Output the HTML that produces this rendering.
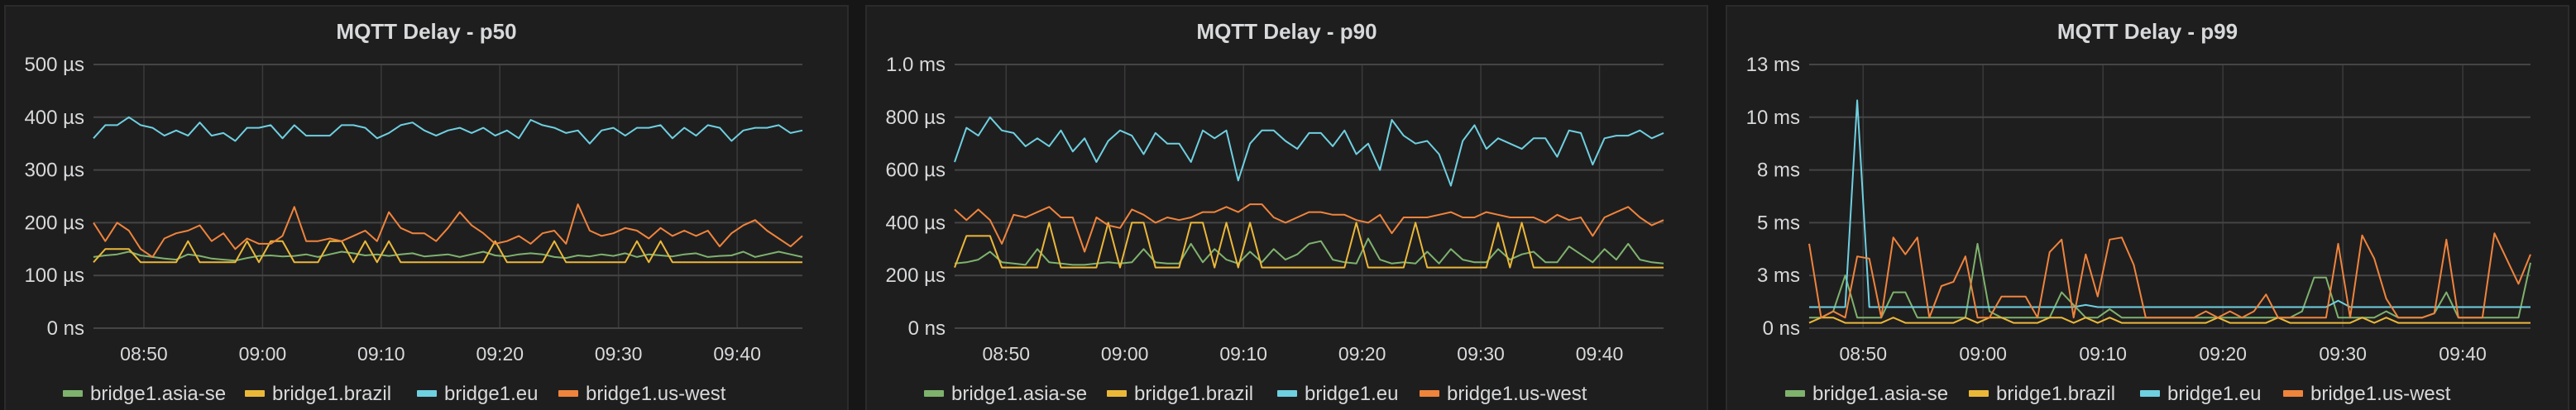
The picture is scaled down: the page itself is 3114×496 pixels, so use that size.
<!DOCTYPE html>
<html><head><meta charset="utf-8"><style>
html,body{margin:0;padding:0;background:#161616;}
svg{display:block;font-family:"Liberation Sans",sans-serif;}
</style></head><body>
<svg id="chart" width="3114" height="496" viewBox="0 0 3114 496" xmlns="http://www.w3.org/2000/svg"></svg>
<script>
// ---------- data ----------
const seriesNames = ["bridge1.asia-se","bridge1.brazil","bridge1.eu","bridge1.us-west"];
const xTickLabels = ["08:50","09:00","09:10","09:20","09:30","09:40"];
const xTickMinutes = [0,10,20,30,40,50];

// p50 (µs)
const p50Asia = [135,138,140,145,138,135,132,130,140,137,132,130,128,133,137,138,136,137,140,135,140,145,142,138,140,137,140,142,136,138,140,135,140,145,138,136,140,142,140,135,133,138,136,140,137,142,135,140,138,136,140,142,135,137,138,145,135,140,145,140,135];
const p50Brazil = [125,150,150,150,125,125,125,125,165,125,125,125,125,165,125,165,165,125,125,125,165,165,125,165,125,165,125,125,125,125,125,125,125,125,165,125,125,125,125,165,125,125,125,125,125,125,165,125,165,125,125,125,125,125,125,125,125,125,125,125,125];
const p50Eu = [360,385,385,400,385,380,365,375,365,390,365,370,355,380,380,385,360,385,365,365,365,385,385,380,360,370,385,390,375,365,375,380,370,380,365,375,360,395,385,380,370,375,350,375,380,365,380,380,385,360,380,365,385,380,355,375,380,380,385,370,375];
const p50UsWest = [200,165,200,185,150,135,170,180,185,195,165,180,150,170,160,160,175,230,165,165,170,165,175,185,165,220,190,180,180,165,190,220,195,180,160,165,175,160,180,185,160,235,185,175,180,190,185,170,190,175,185,175,185,155,180,195,205,185,170,155,175];

// p90 (µs)
const p90Asia = [245,250,260,290,250,245,240,300,250,245,240,240,245,250,245,250,300,250,245,245,320,250,300,260,245,290,250,300,260,280,320,330,260,250,245,340,260,245,250,245,290,245,300,260,250,250,300,260,280,290,250,250,310,280,250,300,260,320,260,250,245];
const p90Brazil = [230,350,350,350,230,230,230,230,400,230,230,230,230,400,230,400,400,230,230,230,400,400,230,400,230,400,230,230,230,230,230,230,230,230,400,230,230,230,230,400,230,230,230,230,230,230,400,230,400,230,230,230,230,230,230,230,230,230,230,230,230];
const p90Eu = [630,760,730,800,750,740,690,720,690,750,670,720,630,710,750,730,660,740,700,700,630,750,720,750,560,700,750,750,710,680,740,740,690,750,660,700,600,790,730,700,710,660,540,710,770,680,720,700,680,720,720,650,750,740,620,720,730,730,750,720,740];
const p90UsWest = [450,410,450,410,320,430,420,440,460,420,420,290,420,390,380,450,430,400,420,410,420,440,440,460,440,470,470,420,400,420,440,440,430,430,410,400,430,360,420,420,420,430,440,420,420,440,430,420,420,420,400,430,410,420,350,420,440,460,420,390,410];

// p99 (ms)
const p99Asia = [0.5,0.5,0.8,2.5,0.5,0.5,0.5,1.7,1.7,0.5,0.5,0.5,0.5,0.5,4.0,0.8,0.5,0.5,0.5,0.5,0.5,1.7,1.1,0.5,0.5,0.9,0.5,0.5,0.5,0.5,0.5,0.5,0.5,0.5,0.5,0.5,0.5,0.5,0.5,0.5,0.5,0.8,2.4,2.4,0.5,0.5,0.5,0.5,0.8,0.5,0.5,0.5,0.7,1.7,0.5,0.5,0.5,0.5,0.5,0.5,3.1];
const p99Brazil = [0.25,0.5,0.5,0.25,0.25,0.25,0.25,0.5,0.25,0.25,0.25,0.25,0.25,0.5,0.25,0.5,0.5,0.25,0.25,0.25,0.5,0.5,0.25,0.5,0.25,0.5,0.25,0.25,0.25,0.25,0.25,0.25,0.25,0.25,0.5,0.25,0.25,0.25,0.25,0.5,0.25,0.25,0.25,0.25,0.25,0.25,0.5,0.25,0.5,0.25,0.25,0.25,0.25,0.25,0.25,0.25,0.25,0.25,0.25,0.25,0.25];
const p99Eu = [1.0,1.0,1.0,1.0,10.8,1.0,1.0,1.0,1.0,1.0,1.0,1.0,1.0,1.0,1.0,1.0,1.0,1.0,1.0,1.0,1.0,1.0,1.0,1.1,1.0,1.0,1.0,1.0,1.0,1.0,1.0,1.0,1.0,1.0,1.0,1.0,1.0,1.0,1.0,1.0,1.0,1.0,1.0,1.0,1.3,1.0,1.0,1.0,1.0,1.0,1.0,1.0,1.0,1.0,1.0,1.0,1.0,1.0,1.0,1.0,1.0];
const p99UsWest = [4.0,0.5,0.8,0.5,3.4,3.3,0.5,4.3,3.5,4.3,0.5,2.0,2.2,3.4,0.5,0.5,1.5,1.5,1.5,0.5,3.6,4.2,0.5,3.5,1.5,4.2,4.3,3.0,0.5,0.5,0.5,0.5,0.5,0.8,0.5,0.8,0.5,0.8,1.6,0.5,0.5,0.5,0.5,0.5,4.0,0.5,4.4,3.3,1.4,0.5,0.5,0.5,0.7,4.2,0.5,0.5,0.5,4.5,3.3,2.1,3.5];

const p50Ticks = [0,100,200,300,400,500];
const p50TickLabels = ["0 ns","100 µs","200 µs","300 µs","400 µs","500 µs"];
const p90Ticks = [0,200,400,600,800,1000];
const p90TickLabels = ["0 ns","200 µs","400 µs","600 µs","800 µs","1.0 ms"];
const p99Ticks = [0,2.5,5,7.5,10,12.5];
const p99TickLabels = ["0 ns","3 ms","5 ms","8 ms","10 ms","13 ms"];

// ---------- layout ----------
const colors = ["#7eb26d","#eab839","#6ed0e0","#ef843c"];
const NS = "http://www.w3.org/2000/svg";
const svg = document.getElementById("chart");
function mk(tag, attrs, parent){const e=document.createElementNS(NS,tag);for(const k in attrs)e.setAttribute(k,attrs[k]);(parent||svg).appendChild(e);return e;}

const panels = [
 {key:"p50",title:"MQTT Delay - p50",px:6,pw:1019,left:113,right:970,t0:-4.25,t1:55.5,max:500,ticks:p50Ticks,labels:p50TickLabels,series:[p50Asia,p50Brazil,p50Eu,p50UsWest],legendX:[76,296,504,675]},
 {key:"p90",title:"MQTT Delay - p90",px:1047,pw:1017,left:1154,right:2011,t0:-4.34,t1:55.4,max:1000,ticks:p90Ticks,labels:p90TickLabels,series:[p90Asia,p90Brazil,p90Eu,p90UsWest],legendX:[1117,1338,1544,1716]},
 {key:"p99",title:"MQTT Delay - p99",px:2087,pw:1018,left:2187,right:3059,t0:-4.5,t1:55.65,max:12.5,ticks:p99Ticks,labels:p99TickLabels,series:[p99Asia,p99Brazil,p99Eu,p99UsWest],legendX:[2158,2380,2587,2760]}
];
const yTop=78, yBot=397;

panels.forEach(p=>{
  const g=mk("g",{});
  
  
  const bg=mk("rect",{x:p.px,y:7,width:p.pw,height:495,fill:"#1f1e1f",stroke:"#2b2b2b","stroke-width":2},g);
  
  
  const title=mk("text",{x:p.px+p.pw/2,y:47,"text-anchor":"middle",fill:"#d8d9da","font-size":26,"font-weight":"bold"},g);
  title.textContent=p.title;
  
  
  const xs=t=>p.left+(t-p.t0)/(p.t1-p.t0)*(p.right-p.left);
  const ys=v=>yBot-v/p.max*(yBot-yTop);
  // vertical grid + x labels
  xTickMinutes.forEach((m,i)=>{
    const l=mk("line",{x1:xs(m),x2:xs(m),y1:yTop,y2:yBot,stroke:"#3a3a3a","stroke-width":1.5},g);
    
    
    const t=mk("text",{x:xs(m),y:436,"text-anchor":"middle",fill:"#d8d9da","font-size":23},g);
    t.textContent=xTickLabels[i];
    
    
  });
  // horizontal grid + y labels
  p.ticks.forEach((v,i)=>{
    const l=mk("line",{x1:p.left,x2:p.right,y1:ys(v),y2:ys(v),stroke:"#454545","stroke-width":2},g);
    
    
    const t=mk("text",{x:p.left-11,y:ys(v)+8,"text-anchor":"end",fill:"#d8d9da","font-size":24},g);
    t.textContent=p.labels[i];
    
    
  });
  // series (brazil & asia drawn first, eu, us-west on top as in grafana order)
  p.series.forEach((arr,si)=>{
    const n=arr.length;
    const pts=arr.map((v,i)=>xs(p.t0+i*(p.t1-p.t0)/(n-1)).toFixed(1)+","+ys(v).toFixed(1)).join(" ");
    const pl=mk("polyline",{points:pts,fill:"none",stroke:colors[si],"stroke-width":2,"stroke-linejoin":"round"},g);
    
    
  });
  // legend
  seriesNames.forEach((name,si)=>{
    const lg=mk("g",{},g);
    
    
    const sw=mk("rect",{x:p.legendX[si],y:472,width:24,height:8,rx:1,fill:colors[si]},lg);
    
    
    const t=mk("text",{x:p.legendX[si]+33,y:484,fill:"#d8d9da","font-size":24},lg);
    t.textContent=name;
    
    
  });
});
</script>
</body></html>
